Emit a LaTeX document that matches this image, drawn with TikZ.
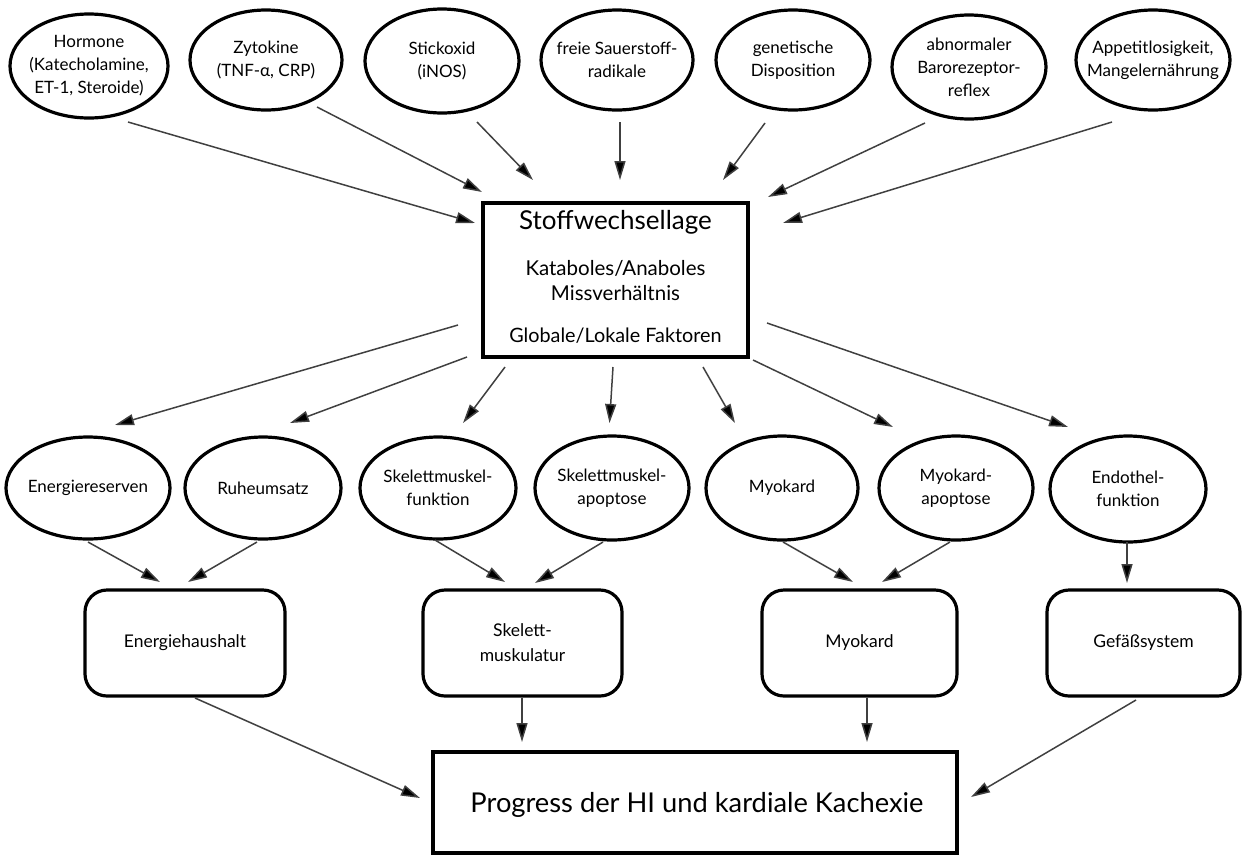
\documentclass[tikz,border=0pt]{standalone}
\usepackage{fontspec}
\setmainfont{Lato}
\usetikzlibrary{shapes.geometric,arrows.meta,calc}
\begin{document}
\begin{tikzpicture}[x=1pt,y=-1pt,
  ell/.style={draw,ellipse,line width=3.2pt,inner sep=0pt},
  txt/.style={align=center,font=\fontsize{17}{23}\selectfont,inner sep=0pt},
  rbox/.style={draw,rounded corners=22pt,line width=3.2pt,inner sep=0pt},
  sbox/.style={draw,line width=3.4pt,inner sep=0pt},
  arr/.style={line width=1.5pt,draw=black!75,-{Triangle[length=19pt,width=11pt,fill=black]}}]
\useasboundingbox (0,0) rectangle (1246,855);
% top ellipses
\node[ell,minimum width=158pt,minimum height=104pt] (h1) at (89,66) {};
\node[ell,minimum width=152pt,minimum height=100pt] (h2) at (266,60) {};
\node[ell,minimum width=154pt,minimum height=104pt] (h3) at (442,61) {};
\node[ell,minimum width=152pt,minimum height=100pt] (h4) at (617,60) {};
\node[ell,minimum width=154pt,minimum height=100pt] (h5) at (793,60) {};
\node[ell,minimum width=154pt,minimum height=104pt] (h6) at (969,67) {};
\node[ell,minimum width=154pt,minimum height=100pt] (h7) at (1153,60) {};
\node[txt] (h1t) at (h1) {Hormone\\(Katecholamine,\\ET-1, Steroide)};
\node[txt] (h2t) at (h2) {Zytokine\\(TNF-α, CRP)};
\node[txt] (h3t) at (h3) {Stickoxid\\(iNOS)};
\node[txt] (h4t) at (h4) {freie Sauerstoff-\\radikale};
\node[txt] (h5t) at (h5) {genetische\\Disposition};
\node[txt] (h6t) at (h6) {abnormaler\\Barorezeptor-\\reflex};
\node[txt] (h7t) at (h7) {Appetitlosigkeit,\\Mangelernährung};
% central box
\node[sbox,minimum width=265pt,minimum height=154pt] (c) at (615.5,280) {};
\node[inner sep=0pt,font=\fontsize{26}{30}\selectfont] (c1) at (615.5,222) {Stoffwechsellage};
\node[inner sep=0pt,align=center,font=\fontsize{20.5}{25}\selectfont] (c2) at (615.5,281) {Kataboles/Anaboles\\Missverhältnis};
\node[inner sep=0pt,font=\fontsize{19.8}{25}\selectfont] (c3) at (615.5,336) {Globale/Lokale Faktoren};
% middle ellipses
\node[ell,minimum width=164pt,minimum height=102pt] (m1) at (88,488) {};
\node[ell,minimum width=156pt,minimum height=102pt] (m2) at (263,488) {};
\node[ell,minimum width=156pt,minimum height=102pt] (m3) at (438,488) {};
\node[ell,minimum width=154pt,minimum height=104pt] (m4) at (612,488) {};
\node[ell,minimum width=152pt,minimum height=104pt] (m5) at (782,488) {};
\node[ell,minimum width=154pt,minimum height=104pt] (m6) at (956,488) {};
\node[ell,minimum width=156pt,minimum height=106pt] (m7) at (1128,489) {};
\node[txt] (m1t) at (m1) {Energiereserven};
\node[txt] (m2t) at (m2) {Ruheumsatz};
\node[txt] (m3t) at (m3) {Skelettmuskel-\\funktion};
\node[txt] (m4t) at (m4) {Skelettmuskel-\\apoptose};
\node[txt] (m5t) at (m5) {Myokard};
\node[txt] (m6t) at (m6) {Myokard-\\apoptose};
\node[txt] (m7t) at (m7) {Endothel-\\funktion};
% rounded boxes
\node[rbox,minimum width=200pt,minimum height=106pt] (b1) at (185,643) {};
\node[rbox,minimum width=199pt,minimum height=106pt] (b2) at (522.5,643) {};
\node[rbox,minimum width=195pt,minimum height=106pt] (b3) at (859.5,643) {};
\node[rbox,minimum width=193pt,minimum height=106pt] (b4) at (1143.5,643) {};
\node[txt,font=\fontsize{17.5}{25}\selectfont] (b1t) at (b1) {Energiehaushalt};
\node[txt,font=\fontsize{17.5}{25}\selectfont] (b2t) at (b2) {Skelett-\\muskulatur};
\node[txt,font=\fontsize{17.5}{25}\selectfont] (b3t) at (b3) {Myokard};
\node[txt,font=\fontsize{17.5}{25}\selectfont] (b4t) at (b4) {Gefäßsystem};
% final box
\node[sbox,minimum width=524pt,minimum height=101pt] (f) at (695,802.5) {};
\node[inner sep=0pt,font=\fontsize{27.3}{30}\selectfont] (ft) at (697,805) {Progress der HI und kardiale Kachexie};
% top arrows
\draw[arr] ($(h1)+(39,56)$) -- ($(c)+(-140.5,-57)$);
\draw[arr] ($(h2)+(51,47)$) -- ($(c)+(-133.5,-88)$);
\draw[arr] ($(h3)+(35,61)$) -- ($(c)+(-82.5,-100)$);
\draw[arr] ($(h4)+(3,62)$) -- ($(c)+(4.5,-100)$);
\draw[arr] ($(h5)+(-28,63)$) -- ($(c)+(107.5,-100)$);
\draw[arr] ($(h6)+(-44,56)$) -- ($(c)+(152.5,-83)$);
\draw[arr] ($(h7)+(-41,62)$) -- ($(c)+(167.5,-57)$);
% central to middle
\draw[arr] ($(c)+(-157.5,45)$) -- ($(m1)+(27,-63)$);
\draw[arr] ($(c)+(-148.5,77)$) -- ($(m2)+(27,-65)$);
\draw[arr] ($(c)+(-110.5,87)$) -- ($(m3)+(25,-65)$);
\draw[arr] ($(c)+(-2.5,87)$) -- ($(m4)+(-2.5,-65)$);
\draw[arr] ($(c)+(87.5,87)$) -- ($(m5)+(-47,-65)$);
\draw[arr] ($(c)+(137.5,80)$) -- ($(m6)+(-63,-61)$);
\draw[arr] ($(c)+(151.5,43)$) -- ($(m7)+(-60,-62)$);
% middle to boxes
\draw[arr] ($(m1)+(0,54)$) -- ($(b1)+(-25,-61)$);
\draw[arr] ($(m2)+(-6,54)$) -- ($(b1)+(3,-61)$);
\draw[arr] ($(m3)+(-3,52)$) -- ($(b2)+(-17.5,-61)$);
\draw[arr] ($(m4)+(-9,54)$) -- ($(b2)+(12.5,-60)$);
\draw[arr] ($(m5)+(1,54)$) -- ($(b3)+(-6.5,-61)$);
\draw[arr] ($(m6)+(-6,54)$) -- ($(b3)+(22.5,-61)$);
\draw[arr] ($(m7)+(-1,53)$) -- ($(b4)+(-16.5,-60)$);
% boxes to final
\draw[arr] ($(b1)+(10,55)$) -- ($(f)+(-275,-4.5)$);
\draw[arr] ($(b2)+(-0.5,55)$) -- ($(f)+(-173,-60.5)$);
\draw[arr] ($(b3)+(7.5,55)$) -- ($(f)+(172,-60.5)$);
\draw[arr] ($(b4)+(-7.5,57)$) -- ($(f)+(276,-5.5)$);
\end{tikzpicture}
\end{document}
